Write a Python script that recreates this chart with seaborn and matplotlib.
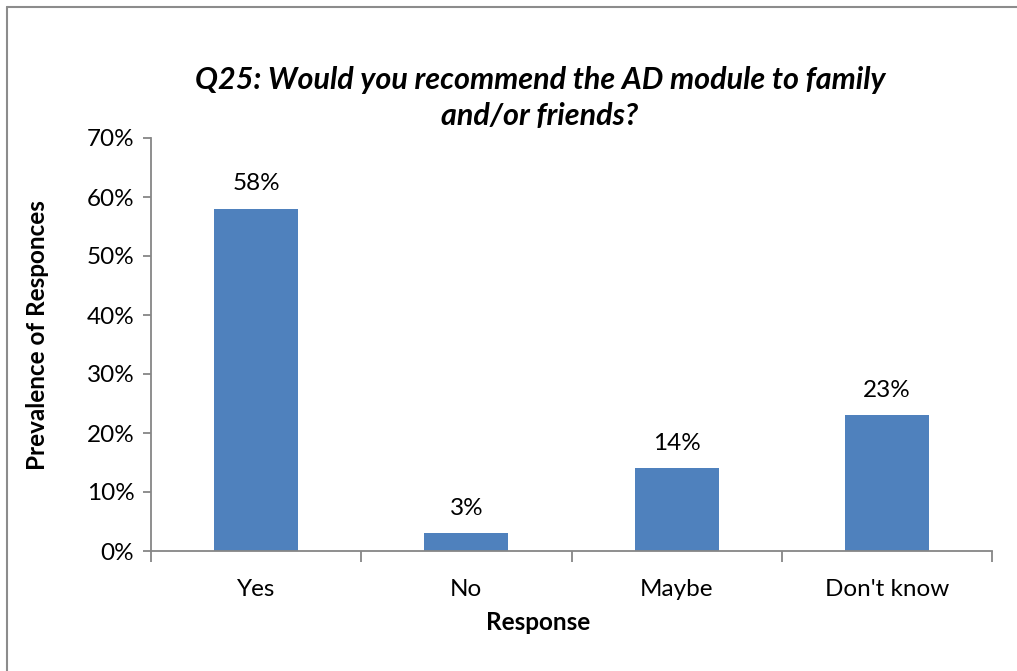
import matplotlib
matplotlib.use("Agg")
import matplotlib.pyplot as plt
from matplotlib.lines import Line2D
from matplotlib.ticker import PercentFormatter, FixedLocator
import seaborn as sns
import pandas as pd

responses = ["Yes", "No", "Maybe", "Don't know"]
shares = [58, 3, 14, 23]
y_ticks = [0, 10, 20, 30, 40, 50, 60, 70]

sns.set_theme(style="white")
plt.rcParams["font.family"] = ["Lato", "DejaVu Sans"]
plt.rcParams["text.color"] = "black"

df = pd.DataFrame({"Response": responses, "Share": shares})

fig = plt.figure(figsize=(10.17, 6.71), dpi=100)
W, H = 1017, 671
ax = fig.add_axes([151 / W, 1 - 551 / H, (992 - 151) / W, (551 - 138) / H])

bar_color = "#4F81BD"
sns.barplot(data=df, x="Response", y="Share", color=bar_color, width=0.4,
            saturation=1, ax=ax, edgecolor="none")

ax.set_xlim(-0.5, len(responses) - 0.5)
ax.set_ylim(0, 70)
ax.yaxis.set_major_locator(FixedLocator(y_ticks))
ax.yaxis.set_major_formatter(PercentFormatter(decimals=0))

spine_color = "#868686"
for side in ["top", "right"]:
    ax.spines[side].set_visible(False)
for side in ["left", "bottom"]:
    ax.spines[side].set_color(spine_color)
    ax.spines[side].set_linewidth(1.3)

ax.tick_params(axis="y", direction="out", length=6, width=1.3, color=spine_color,
               labelsize=17.5, labelcolor="black", pad=6, left=True)
# category boundaries carry the x ticks, labels sit at the centres
ax.set_xticks([i - 0.5 for i in range(len(responses) + 1)], minor=False)
ax.set_xticklabels([])
ax.set_xticks(range(len(responses)), minor=True)
ax.set_xticklabels(responses, minor=True)
ax.tick_params(axis="x", which="major", direction="out", length=8, width=1.3,
               color=spine_color, bottom=True)
ax.tick_params(axis="x", which="minor", length=0, labelsize=17.5,
               labelcolor="black", pad=20)

for i, v in enumerate(shares):
    ax.text(i, v + 2.5, f"{v}%", ha="center", va="bottom", fontsize=17.5,
            color="black")

ax.set_xlabel("")
ax.set_ylabel("")
fig.text(38 / W, 1 - 335 / H, "Prevalence of Responces", rotation=90,
         ha="center", va="center", fontsize=17.5, fontweight="bold",
         color="black")
fig.text(538 / W, 1 - 623 / H, "Response", ha="center", va="center",
         fontsize=17.5, fontweight="bold", color="black")
fig.text(540 / W, 1 - 98 / H,
         "Q25: Would you recommend the AD module to family\nand/or friends?",
         ha="center", va="center", fontsize=22, fontweight="bold",
         fontstyle="italic", linespacing=1.32, color="black")

# outer frame along the top and left edges
fig.add_artist(Line2D([7 / W, 1.0], [1 - 7 / H, 1 - 7 / H], color="#8C8C8C",
                      linewidth=1.5, transform=fig.transFigure))
fig.add_artist(Line2D([7 / W, 7 / W], [0.0, 1 - 7 / H], color="#8C8C8C",
                      linewidth=1.5, transform=fig.transFigure))

fig.savefig("out.png", dpi=100, facecolor="white")
